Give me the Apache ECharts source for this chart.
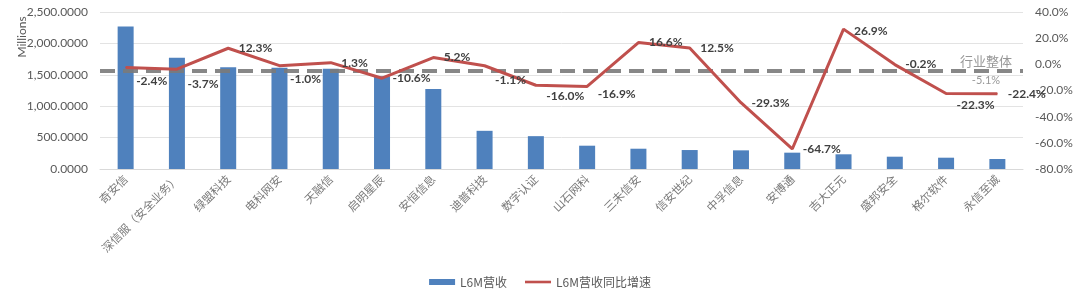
<!DOCTYPE html>
<html>
<head>
<meta charset="utf-8">
<script src="https://cdn.jsdelivr.net/npm/echarts@6/dist/echarts.min.js"></script>
<style>
html,body{margin:0;padding:0;background:#fff;}
#chart{width:1080px;height:302px;}
</style>
</head>
<body>
<div id="chart"></div>
<script>
const categories = ['奇安信','深信服（安全业务）','绿盟科技','电科网安','天融信','启明星辰','安恒信息','迪普科技','数字认证','山石网科','三未信安','信安世纪','中孚信息','安博通','吉大正元','盛邦安全','格尔软件','永信至诚'];
const revenue = [2270, 1771, 1620, 1611, 1595, 1477, 1275, 608, 523, 371, 323, 302, 297, 260, 234, 196, 180, 159];
const growth = [-2.4, -3.7, 12.3, -1.0, 1.3, -10.6, 5.2, -1.1, -16.0, -16.9, 16.6, 12.5, -29.3, -64.7, 26.9, -0.2, -22.3, -22.4];
const industryGrowth = -5.1;
const leftTicks = {min: 0, max: 2500, interval: 500};
const rightTicks = {min: -80, max: 40, interval: 20};

// label vertical offsets (style only)
const labelDy = [14, 15, 0, 13, 0, 0, 0, 14, 11, 8, 0, 0, 0, 0, 2, 0, 12, 0];

const chart = echarts.init(document.getElementById('chart'));
const fontLatin = 'Lato, "Noto Sans CJK SC", sans-serif';
const fontCJK = '"Noto Sans CJK SC", sans-serif';

chart.setOption({
  animation: false,
  grid: {left: 100, right: 57, top: 12, bottom: 133},
  legend: {
    bottom: 9,
    left: 'center',
    itemGap: 18,
    itemWidth: 26,
    itemHeight: 6,
    textStyle: {fontFamily: fontCJK, fontSize: 12, color: '#595959'},
    data: [
      {name: 'L6M营收', icon: 'rect'},
      {name: 'L6M营收同比增速', icon: 'path://M0,0 L30,0 L30,3 L0,3 Z'}
    ]
  },
  graphic: [{
    type: 'text',
    x: 22, y: 37,
    rotation: Math.PI / 2,
    style: {text: 'Millions', fontFamily: fontLatin, fontSize: 12, fill: '#595959', textAlign: 'center', textVerticalAlign: 'middle'}
  }],
  xAxis: {
    type: 'category',
    data: categories,
    axisTick: {show: false},
    axisLine: {lineStyle: {color: '#d9d9d9'}},
    axisLabel: {rotate: 45, interval: 0, margin: 8, color: '#7a7a7a', fontFamily: fontCJK, fontSize: 11.5}
  },
  yAxis: [{
    type: 'value',
    min: leftTicks.min, max: leftTicks.max, interval: leftTicks.interval,
    axisLine: {show: false}, axisTick: {show: false},
    splitLine: {lineStyle: {color: '#e3e3e3'}},
    axisLabel: {
      margin: 12, color: '#595959', fontFamily: fontLatin, fontSize: 12,
      formatter: v => v.toLocaleString('en-US', {minimumFractionDigits: 4, maximumFractionDigits: 4})
    }
  }, {
    type: 'value',
    min: rightTicks.min, max: rightTicks.max, interval: rightTicks.interval,
    axisLine: {show: false}, axisTick: {show: false},
    splitLine: {show: false},
    axisLabel: {margin: 12, color: '#595959', fontFamily: fontLatin, fontSize: 12, formatter: v => v.toFixed(1) + '%'}
  }],
  series: [{
    name: 'L6M营收',
    type: 'bar',
    data: revenue,
    barWidth: 16,
    itemStyle: {color: '#4F81BD'}
  }, {
    name: 'L6M营收同比增速',
    type: 'line',
    yAxisIndex: 1,
    data: growth,
    symbol: 'circle',
    symbolSize: 1,
    showSymbol: true,
    z: 5,
    lineStyle: {color: '#C0504D', width: 3},
    itemStyle: {color: '#C0504D'},
    label: {
      show: true, position: 'right', distance: 10,
      color: '#404040', fontWeight: 'bold', fontFamily: fontLatin, fontSize: 12,
      formatter: p => p.value.toFixed(1) + '%'
    },
    labelLayout: p => ({dy: labelDy[p.dataIndex], hideOverlap: false}),
    markLine: {
      silent: true,
      symbol: 'none',
      z: 3,
      lineStyle: {color: '#7a7a7a', width: 4, type: [15, 8], opacity: 0.9},
      label: {
        position: 'insideEnd',
        distance: 13,
        formatter: '{a|行业整体}\n{b|' + industryGrowth.toFixed(1) + '%}',
        rich: {
          a: {fontFamily: fontCJK, fontSize: 13, color: '#8c8c8c', lineHeight: 19, width: 48, align: 'center'},
          b: {fontFamily: fontLatin, fontSize: 11, color: '#8c8c8c', lineHeight: 19, width: 48, align: 'center'}
        }
      },
      data: [{yAxis: industryGrowth}]
    }
  }]
});
</script>
</body>
</html>
